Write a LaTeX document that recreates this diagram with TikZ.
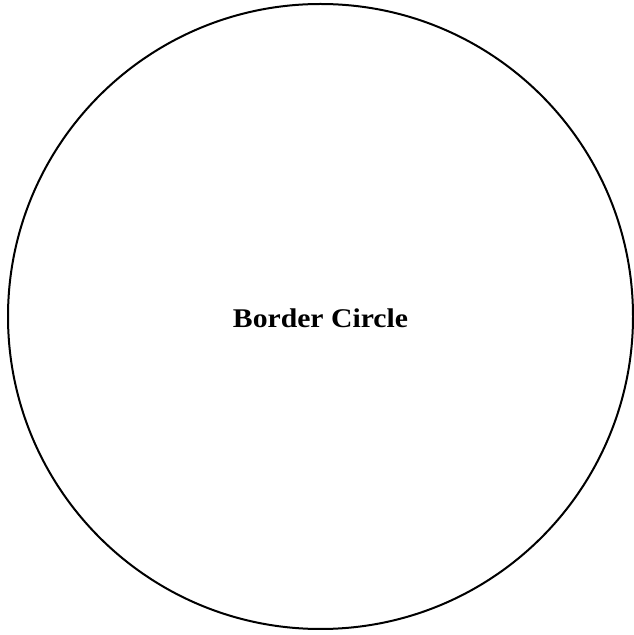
\documentclass[tikz,border=0pt]{standalone}
\usepackage{fontspec}
\setmainfont{Liberation Serif}
\tikzset{
  border/.style={draw=black, line width=2pt, circle, minimum size=625pt, inner sep=0pt},
  label/.style={font=\fontsize{27}{30}\selectfont\bfseries, inner sep=0pt, anchor=base, xscale=1.1, transform shape}
}
\begin{document}
\begin{tikzpicture}[x=1pt,y=1pt]
\useasboundingbox (0,0) rectangle (634,635);
\node[border] (c) at (320.5,318.5) {};
\node[label] (t) at (320.5,307) {Border Circle};
\end{tikzpicture}
\end{document}
